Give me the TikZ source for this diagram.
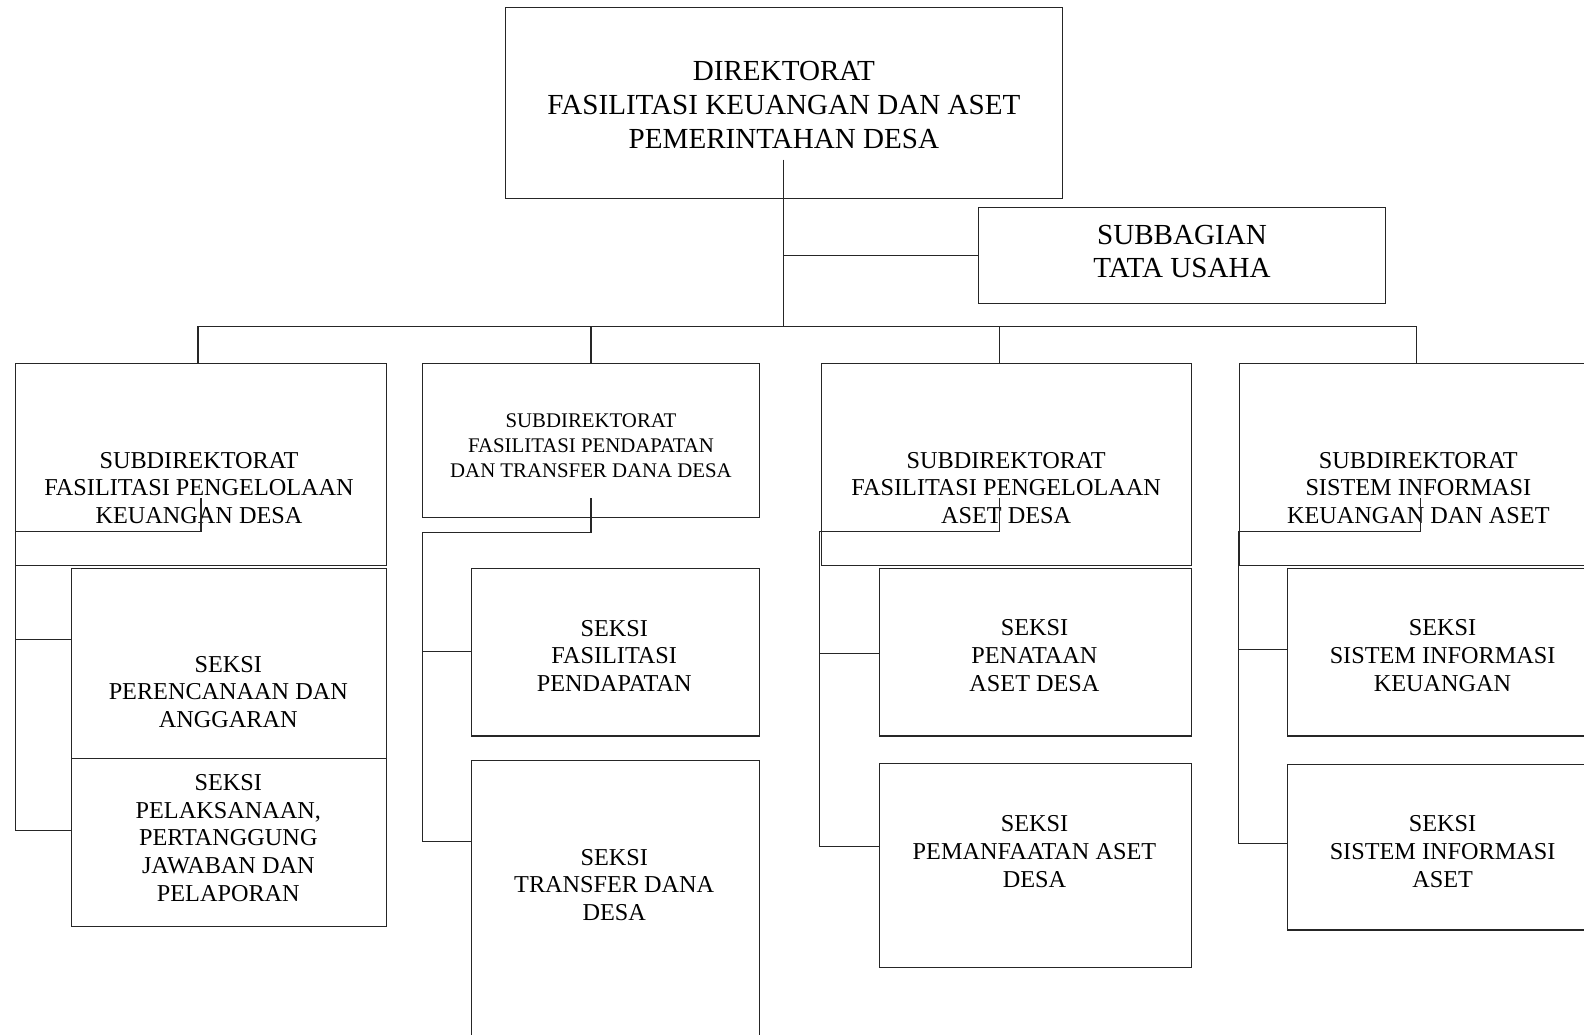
\documentclass[tikz,border=0pt]{standalone}
\usepackage{fontspec}
\setmainfont{Liberation Serif}
\tikzset{
    kotak/.style={draw=black!85, line width=1.1pt, rectangle, inner sep=0pt, anchor=north west}, % kotak unit
    teks/.style={align=center, inner sep=0pt, font=\fontsize{24}{27.3}\selectfont},
    teksbesar/.style={teks, font=\fontsize{28.8}{33.5}\selectfont},
    tekskecil/.style={teks, font=\fontsize{20.6}{24.5}\selectfont},
    garis/.style={draw=black!85, line width=1.1pt}, % garis penghubung
}
\begin{document}
\begin{tikzpicture}[x=1pt, y=-1pt]
    \clip (0,0) rectangle (1568,1024);

    % Kotak
    \node[kotak, minimum width=551pt, minimum height=189pt] (dir) at (500,7) {};
    \node[kotak, minimum width=403pt, minimum height=95pt] (tu) at (968,205) {};
    \node[kotak, minimum width=367pt, minimum height=200pt] (sub1) at (15,359) {};
    \node[kotak, minimum width=333pt, minimum height=153pt] (sub2) at (418,359) {};
    \node[kotak, minimum width=366pt, minimum height=200pt] (sub3) at (813,359) {};
    \node[kotak, minimum width=352pt, minimum height=200pt] (sub4) at (1226,359) {};
    \node[kotak, minimum width=312pt, minimum height=188pt] (s11) at (70,562) {};
    \node[kotak, minimum width=312pt, minimum height=167pt] (s12) at (70,750) {};
    \node[kotak, minimum width=285pt, minimum height=166pt] (s21) at (466,562) {};
    \node[kotak, minimum width=285pt, minimum height=290pt] (s22) at (466,752) {};
    \node[kotak, minimum width=309pt, minimum height=166pt] (s31) at (870,562) {};
    \node[kotak, minimum width=309pt, minimum height=202pt] (s32) at (870,755) {};
    \node[kotak, minimum width=310pt, minimum height=166pt] (s41) at (1274,562) {};
    \node[kotak, minimum width=310pt, minimum height=164pt] (s42) at (1274,756) {};

    % Teks
    \node[teksbesar] (dirt) at (776,104) {DIREKTORAT\\FASILITASI KEUANGAN DAN ASET\\PEMERINTAHAN DESA};
    \node[teksbesar] (tut) at (1170,249) {SUBBAGIAN\\TATA USAHA};
    \node[teks] (sub1t) at (197,483) {SUBDIREKTORAT\\FASILITASI PENGELOLAAN\\KEUANGAN DESA};
    \node[tekskecil] (sub2t) at (585,441) {SUBDIREKTORAT\\FASILITASI PENDAPATAN\\DAN TRANSFER DANA DESA};
    \node[teks] (sub3t) at (996,483) {SUBDIREKTORAT\\FASILITASI PENGELOLAAN\\ASET DESA};
    \node[teks] (sub4t) at (1404,483) {SUBDIREKTORAT\\SISTEM INFORMASI\\KEUANGAN DAN ASET};
    \node[teks] (s11t) at (226,685) {SEKSI\\PERENCANAAN DAN\\ANGGARAN};
    \node[teks] (s12t) at (226,829.5) {SEKSI\\PELAKSANAAN,\\PERTANGGUNG\\JAWABAN DAN\\PELAPORAN};
    \node[teks] (s21t) at (608,649) {SEKSI\\FASILITASI\\PENDAPATAN};
    \node[teks] (s22t) at (608,876) {SEKSI\\TRANSFER DANA\\DESA};
    \node[teks] (s31t) at (1024,649) {SEKSI\\PENATAAN\\ASET DESA};
    \node[teks] (s32t) at (1024,843) {SEKSI\\PEMANFAATAN ASET\\DESA};
    \node[teks] (s41t) at (1428,649) {SEKSI\\SISTEM INFORMASI\\KEUANGAN};
    \node[teks] (s42t) at (1428,843) {SEKSI\\SISTEM INFORMASI\\ASET};

    % Garis atas
    \coordinate (dirb) at (776,158);
    \coordinate (bus) at (776,323);
    \coordinate (turun1) at (196,359);
    \coordinate (turun3) at (989,359);
    \draw[garis] (dirb) -- (bus);
    \draw[garis] (tu.west -| bus) -- (tu.west);
    \draw[garis] (turun1 |- bus) -- (sub4.north |- bus);
    \draw[garis] (turun1) -- (turun1 |- bus);
    \draw[garis] (sub2.north) -- (sub2.north |- bus);
    \draw[garis] (turun3) -- (turun3 |- bus);
    \draw[garis] (sub4.north) -- (sub4.north |- bus);

    % Garis ke seksi
    \foreach \n/\vx/\kx/\ky/\ya/\yb in {1/199/15/526/633/822, 2/585/418/527/645/833,
                                       3/989/811/526/647/838, 4/1406/1226/526/643/835}{
        \coordinate (v\n) at (\vx,493);
        \coordinate (k\n) at (\kx,\ky);
        \coordinate (ha\n) at (\kx,\ya);
        \coordinate (hb\n) at (\kx,\yb);
        \draw[garis] (v\n) |- (k\n) -- (hb\n) -- (hb\n -| s\n2.west);
        \draw[garis] (ha\n) -- (ha\n -| s\n1.west);
    }
\end{tikzpicture}
\end{document}
